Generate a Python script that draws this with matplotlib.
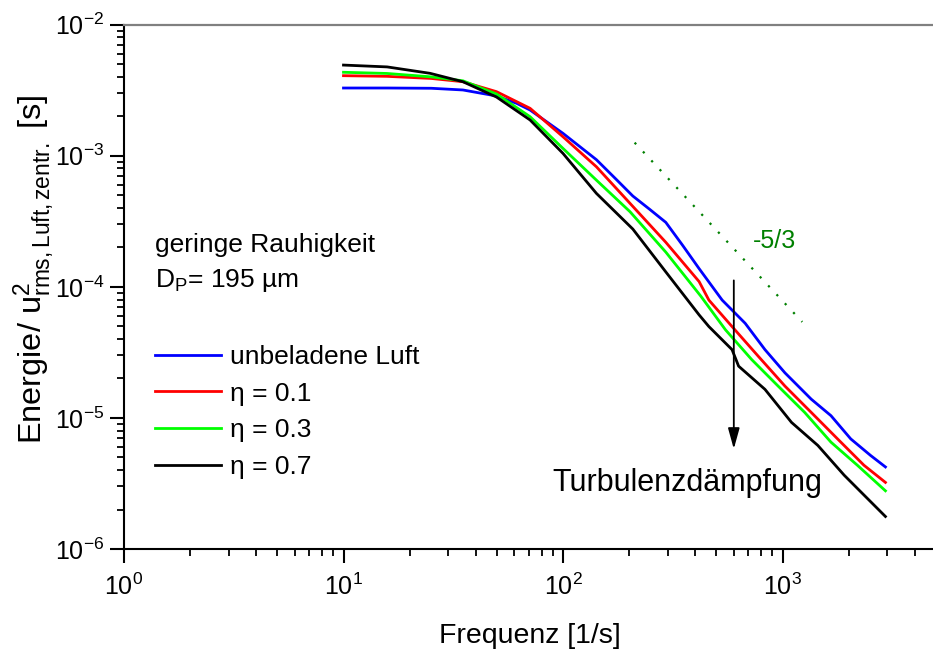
import numpy as np
import matplotlib
matplotlib.use("Agg")
import matplotlib.pyplot as plt
from matplotlib.ticker import LogLocator, NullFormatter

plt.rcParams['font.family'] = ['Liberation Sans', 'DejaVu Sans']
plt.rcParams['mathtext.fontset'] = 'custom'
plt.rcParams['mathtext.rm'] = 'Liberation Sans'
plt.rcParams['mathtext.it'] = 'Liberation Sans:italic'
plt.rcParams['mathtext.bf'] = 'Liberation Sans:bold'

# ---------------- data ----------------
# each series: frequency [1/s] and log10(Energie / u^2 [s])
freq_unbeladen = [10, 15.8, 25.1, 35.0, 49.8, 61.5, 70.8, 100, 142, 175, 208, 248, 294,
                  351, 417, 531, 676, 832, 1026, 1352, 1663, 2046, 2518, 2944]
log_unbeladen = [-2.483, -2.483, -2.485, -2.498, -2.544, -2.600, -2.651, -2.829, -3.030, -3.181,
                 -3.307, -3.408, -3.508, -3.684, -3.861, -4.101, -4.278, -4.479, -4.656, -4.857,
                 -4.983, -5.160, -5.286, -5.374]

freq_eta01 = [10, 15.8, 25.1, 35.0, 49.8, 70.8, 100, 142, 202, 294, 417, 462, 589, 776,
              1026, 1352, 1782, 2350, 2944]
log_eta01 = [-2.389, -2.394, -2.410, -2.435, -2.511, -2.638, -2.855, -3.084, -3.363, -3.660,
             -3.960, -4.101, -4.303, -4.530, -4.757, -4.958, -5.160, -5.361, -5.492]

freq_eta03 = [10, 15.8, 25.1, 35.0, 49.8, 70.8, 100, 142, 202, 294, 424, 550, 724, 955,
              1262, 1663, 2193, 2944]
log_eta03 = [-2.363, -2.372, -2.398, -2.428, -2.529, -2.702, -2.944, -3.186, -3.427, -3.735,
             -4.070, -4.328, -4.555, -4.757, -4.958, -5.185, -5.361, -5.556]

freq_eta07 = [10, 15.8, 24.8, 35.0, 49.8, 70.8, 100, 142, 208, 294, 417, 462, 589, 631,
              832, 1099, 1449, 1910, 2350, 2944]
log_eta07 = [-2.308, -2.322, -2.371, -2.435, -2.552, -2.727, -2.982, -3.287, -3.559, -3.886,
             -4.214, -4.303, -4.479, -4.605, -4.782, -5.034, -5.210, -5.437, -5.588, -5.752]

series_labels = ['unbeladene Luft', 'η = 0.1', 'η = 0.3', 'η = 0.7']
series_colors = ['#0000ff', '#ff0000', '#00ff00', '#000000']

slope_f = [212, 1230]
slope_E = [1.26e-3, 5.4e-5]

arrow_f = 600
arrow_E_start = 1.12e-4
arrow_E_end = 5.8e-6

# ---------------- figure ----------------
W, H = 933, 652
fig = plt.figure(figsize=(W / 100, H / 100), dpi=100)
ax_left, ax_top, ax_bottom, ax_right = 124, 24.7, 549, 933
px_per_decade = 219.5
ax = fig.add_axes([ax_left / W, 1 - ax_bottom / H, (ax_right - ax_left) / W, (ax_bottom - ax_top) / H])

fs_tick = 18
fs_text = 19

series = [(freq_unbeladen, log_unbeladen), (freq_eta01, log_eta01),
          (freq_eta03, log_eta03), (freq_eta07, log_eta07)]
for (fr, logs), lab, col in zip(series, series_labels, series_colors):
    ax.plot(fr, 10 ** np.array(logs), color=col, lw=2.0, label=lab, solid_joinstyle='round')

ax.plot(slope_f, slope_E, color='#008000', lw=1.6, linestyle=(0, (1, 4.5)))
fig.text(775 / W, 1 - 241 / H, '-5/3', color='#008000', fontsize=18, ha='center', va='center')

ax.annotate('', xy=(arrow_f, arrow_E_end), xytext=(arrow_f, arrow_E_start),
            arrowprops=dict(arrowstyle='-|>,head_length=0.9,head_width=0.25', color='black', lw=1.3,
                            mutation_scale=14, shrinkA=0, shrinkB=0))

ax.set_xscale('log')
ax.set_yscale('log')
ax.set_xlim(1, 10 ** ((ax_right - ax_left) / px_per_decade))
ax.set_ylim(1e-6, 1e-2)

ax.spines['right'].set_visible(False)
ax.spines['top'].set_color('#808080')
ax.spines['top'].set_linewidth(1.6)
ax.spines['left'].set_linewidth(1.5)
ax.spines['bottom'].set_linewidth(1.5)

ax.xaxis.set_minor_locator(LogLocator(base=10, subs=np.arange(2, 10), numticks=20))
ax.yaxis.set_minor_locator(LogLocator(base=10, subs=np.arange(2, 10), numticks=20))
ax.xaxis.set_minor_formatter(NullFormatter())
ax.yaxis.set_minor_formatter(NullFormatter())
ax.tick_params(which='major', direction='out', length=10, width=1.5, labelsize=fs_tick)
ax.tick_params(axis='x', which='major', pad=8)
ax.tick_params(axis='y', which='major', pad=4)
ax.tick_params(which='minor', direction='out', length=5, width=1.3)
ax.tick_params(top=False, right=False)

ax.set_xlabel('Frequenz [1/s]', fontsize=20.5)
ax.xaxis.set_label_coords((530 - ax_left) / (ax_right - ax_left), -(623 - ax_bottom) / (ax_bottom - ax_top))
ax.set_ylabel(r'Energie/ u$^{2}_{\mathrm{rms,Luft,zentr.}}$ [s]', fontsize=23.4)
ax.yaxis.set_label_coords(-(ax_left - 58) / (ax_right - ax_left), (ax_bottom - 269) / (ax_bottom - ax_top))

fig.text(155 / W, 1 - 245 / H, 'geringe Rauhigkeit', fontsize=fs_text, ha='left', va='center')
fig.text(155 / W, 1 - 280 / H, r'D$_{\mathrm{P}}$= 195 µm', fontsize=fs_text, ha='left', va='center')
fig.text(687.5 / W, 1 - 483 / H, 'Turbulenzdämpfung', fontsize=22, ha='center', va='center')

leg = ax.legend(loc='upper left', bbox_to_anchor=(155 / W, 1 - 345 / H), bbox_transform=fig.transFigure,
                frameon=False, fontsize=fs_text, handlelength=2.5, handletextpad=0.34,
                labelspacing=0.48, borderpad=0, borderaxespad=0)
for line in leg.get_lines():
    line.set_linewidth(2.0)

fig.savefig('out.png', dpi=100)
